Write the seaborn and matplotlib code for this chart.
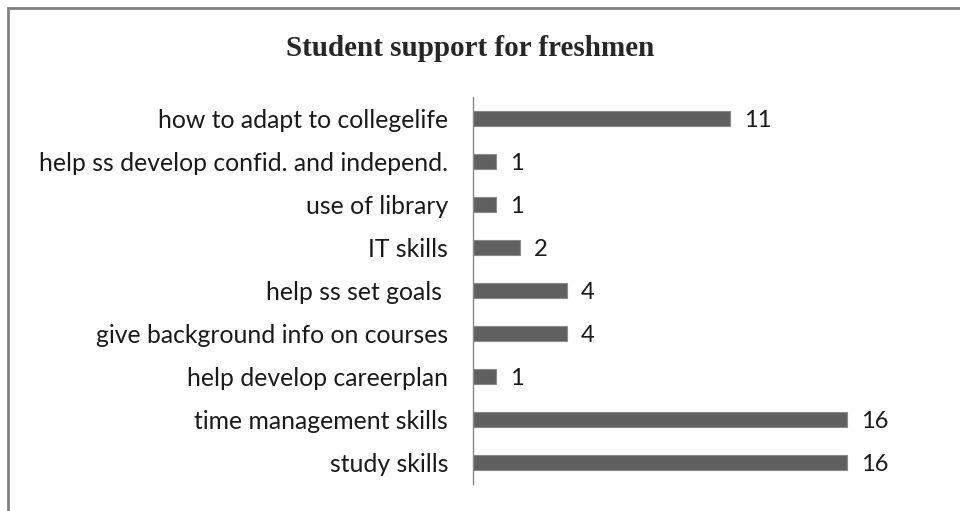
import matplotlib
matplotlib.use("Agg")
import matplotlib.pyplot as plt
import matplotlib.patches as mpatches
import seaborn as sns
import pandas as pd

categories = [
    "how to adapt to collegelife",
    "help ss develop confid. and independ.",
    "use of library",
    "IT skills",
    "help ss set goals ",
    "give background info on courses",
    "help develop careerplan",
    "time management skills",
    "study skills",
]
values = [11, 1, 1, 2, 4, 4, 1, 16, 16]
title = "Student support for freshmen"

df = pd.DataFrame({"category": categories, "value": values})

sns.set_theme(style="white")
plt.rcParams["font.family"] = ["Lato", "DejaVu Sans"]

fig = plt.figure(figsize=(9.6, 5.11), dpi=100)
ax = fig.add_axes([473 / 960, 1 - 484 / 511, 421 / 960, 387 / 511])

sns.barplot(data=df, x="value", y="category", orient="h", color="#606060",
            width=0.37, edgecolor="#8a8a8a", linewidth=0.8, saturation=1, ax=ax)

ax.set_xlim(0, 18)
ax.set_ylim(8.5, -0.5)
ax.set_xlabel("")
ax.set_ylabel("")
ax.set_xticks([])
for s in ["top", "right", "bottom"]:
    ax.spines[s].set_visible(False)
ax.spines["left"].set_color("#888888")
ax.spines["left"].set_linewidth(1.0)
ax.tick_params(axis="y", length=0, pad=18, labelsize=17.8, labelcolor="#1a1a1a")
for lbl in ax.get_yticklabels():
    lbl.set_verticalalignment("center_baseline")

for i, v in enumerate(values):
    ax.text(v + 0.6, i, str(v), va="center_baseline", ha="left", fontsize=17, color="#1a1a1a")

fig.text(470 / 960, 1 - 48 / 511, title, ha="center", va="center",
         fontsize=21, fontweight="bold", family=["Liberation Serif", "DejaVu Serif"])

border = mpatches.Rectangle((8 / 960, -0.1), 1.2, 1 - 8 / 511 + 0.1, transform=fig.transFigure,
                            fill=False, edgecolor="#808080", linewidth=2, clip_on=False)
fig.patches.append(border)

fig.savefig("out.png", dpi=100)
